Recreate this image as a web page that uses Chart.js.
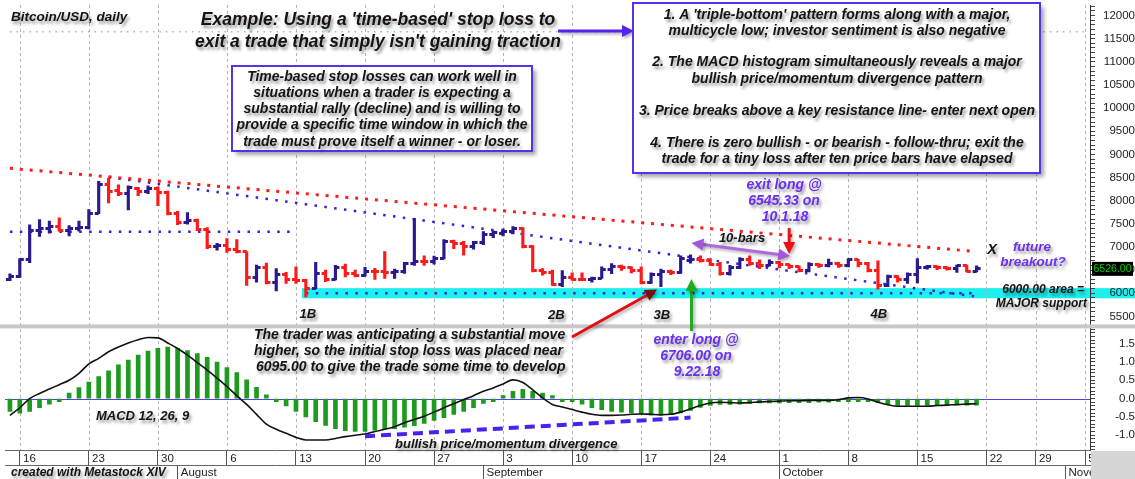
<!DOCTYPE html>
<html>
<head>
<meta charset="utf-8">
<script src="https://cdn.jsdelivr.net/npm/chart.js@4.4.1/dist/chart.umd.min.js"></script>
<style>
  html, body { margin: 0; padding: 0; background: #fff; overflow: hidden; }
</style>
</head>
<body>
<canvas id="chart" width="1135" height="479"></canvas>
<script>
// daily Bitcoin/USD bars, Jul 15 .. Oct 21 2018
const opens = [
  6290, 6370, 6720, 7360, 7400, 7450, 7360, 7400, 7420, 7720,
  8360, 8220, 8150, 8270, 8200, 8260, 8180, 7720, 7520, 7580,
  7380, 7000, 7040, 6940, 6900, 6350, 6560, 6230, 6400, 6300,
  6270, 6100, 6420, 6300, 6560, 6420, 6390, 6480, 6460, 6440,
  6480, 6640, 6690, 6680, 6740, 7120, 7080, 7000, 7100, 7260,
  7300, 7330, 7400, 7000, 6500, 6440, 6190, 6330, 6300, 6290,
  6320, 6520, 6580, 6550, 6500, 6230, 6400, 6460, 6440, 6706,
  6730, 6700, 6620, 6430, 6560, 6730, 6650, 6600, 6660, 6610,
  6570, 6490, 6620, 6590, 6650, 6600, 6720, 6650, 6500, 6170,
  6360, 6300, 6400, 6560, 6580, 6550, 6540, 6590, 6480
];
const highs = [
  6420, 6750, 7480, 7590, 7560, 7630, 7460, 7560, 7810, 8420,
  8490, 8340, 8320, 8290, 8320, 8300, 8210, 7770, 7740, 7600,
  7420, 7080, 7180, 7160, 6900, 6610, 6650, 6530, 6450, 6570,
  6300, 6670, 6500, 6600, 6630, 6500, 6560, 6540, 6900, 6520,
  6670, 7620, 6810, 6800, 7160, 7150, 7120, 7120, 7330, 7350,
  7390, 7440, 7420, 7030, 6530, 6500, 6490, 6440, 6440, 6350,
  6570, 6640, 6610, 6570, 6570, 6440, 6520, 6500, 6810, 6830,
  6810, 6750, 6670, 6600, 6770, 6810, 6720, 6720, 6690, 6630,
  6590, 6660, 6640, 6740, 6670, 6750, 6730, 6670, 6700, 6390,
  6380, 6440, 6750, 6600, 6590, 6570, 6610, 6610, 6590
];
const lows = [
  6270, 6340, 6660, 7230, 7300, 7340, 7240, 7340, 7390, 7720,
  7950, 8110, 7800, 8110, 8150, 7890, 7690, 7480, 7490, 7350,
  6960, 6930, 6880, 6870, 6170, 6240, 6200, 6050, 6210, 6210,
  5920, 6100, 6250, 6290, 6350, 6350, 6370, 6300, 6320, 6320,
  6430, 6600, 6600, 6630, 6740, 6960, 6820, 6950, 7050, 7200,
  7240, 7280, 6980, 6460, 6390, 6170, 6140, 6280, 6270, 6240,
  6320, 6420, 6490, 6440, 6200, 6210, 6140, 6400, 6430, 6650,
  6670, 6600, 6390, 6390, 6530, 6600, 6530, 6590, 6545, 6530,
  6460, 6460, 6560, 6570, 6560, 6570, 6570, 6460, 6090, 6140,
  6240, 6210, 6220, 6520, 6510, 6500, 6450, 6460, 6460
];
const closes = [
  6370, 6720, 7360, 7400, 7450, 7360, 7400, 7420, 7720, 8360,
  8200, 8150, 8280, 8200, 8260, 8180, 7720, 7520, 7580, 7380,
  7000, 7040, 6940, 6900, 6350, 6560, 6230, 6400, 6300, 6270,
  6100, 6420, 6300, 6560, 6420, 6390, 6480, 6460, 6440, 6480,
  6640, 6690, 6680, 6740, 7120, 7080, 7000, 7100, 7260, 7320,
  7330, 7400, 7000, 6500, 6440, 6190, 6330, 6300, 6290, 6320,
  6520, 6580, 6550, 6500, 6230, 6400, 6460, 6440, 6760, 6730,
  6700, 6620, 6430, 6560, 6730, 6650, 6600, 6670, 6610, 6570,
  6490, 6620, 6590, 6650, 6600, 6720, 6650, 6500, 6170, 6360,
  6300, 6400, 6560, 6580, 6550, 6540, 6590, 6480, 6526
];

// MACD 12,26,9 panel
const macdLine = [
  -0.46, -0.25, 0.00, 0.14, 0.26, 0.38, 0.50, 0.69, 0.95, 1.10,
  1.28, 1.41, 1.52, 1.61, 1.67, 1.66, 1.52, 1.37, 1.19, 0.98,
  0.78, 0.56, 0.33, 0.08, -0.16, -0.43, -0.70, -0.84, -0.95, -1.06,
  -1.13, -1.13, -1.13, -1.09, -1.04, -1.00, -0.97, -0.90, -0.84, -0.77,
  -0.66, -0.57, -0.48, -0.37, -0.25, -0.14, -0.03, 0.08, 0.20, 0.29,
  0.40, 0.51, 0.44, 0.24, 0.02, -0.16, -0.23, -0.30, -0.37, -0.43,
  -0.46, -0.46, -0.45, -0.43, -0.42, -0.43, -0.44, -0.43, -0.37, -0.28,
  -0.19, -0.12, -0.10, -0.11, -0.12, -0.11, -0.09, -0.08, -0.07, -0.06,
  -0.06, -0.05, -0.05, -0.05, -0.03, 0.02, 0.03, -0.01, -0.10, -0.17,
  -0.21, -0.21, -0.21, -0.21, -0.19, -0.18, -0.16, -0.15, -0.14
];
const macdHist = [
  -0.35, -0.40, -0.35, -0.25, -0.15, -0.03, 0.15, 0.30, 0.45, 0.60,
  0.76, 0.92, 1.05, 1.19, 1.30, 1.37, 1.41, 1.37, 1.31, 1.23,
  1.13, 1.00, 0.85, 0.71, 0.51, 0.31, 0.10, -0.05, -0.20, -0.35,
  -0.50, -0.63, -0.73, -0.82, -0.88, -0.90, -0.90, -0.86, -0.83, -0.82,
  -0.78, -0.74, -0.68, -0.60, -0.52, -0.43, -0.35, -0.25, -0.13, -0.05,
  0.07, 0.20, 0.25, 0.20, 0.15, 0.06, -0.02, -0.05, -0.15, -0.25,
  -0.30, -0.35, -0.37, -0.39, -0.42, -0.45, -0.46, -0.43, -0.39, -0.32,
  -0.24, -0.19, -0.16, -0.16, -0.15, -0.13, -0.12, -0.12, -0.12, -0.11,
  -0.11, -0.11, -0.10, -0.10, -0.08, -0.04, -0.02, -0.04, -0.10, -0.16,
  -0.19, -0.19, -0.19, -0.19, -0.19, -0.19, -0.18, -0.18, -0.18
];

// Metastock pads the future with weekdays only
const futureDays = ['2018-10-22', '2018-10-23', '2018-10-24', '2018-10-25', '2018-10-26',
  '2018-10-29', '2018-10-30', '2018-10-31', '2018-11-01', '2018-11-02', '2018-11-05'];
const monthNames = ['January', 'February', 'March', 'April', 'May', 'June', 'July',
  'August', 'September', 'October', 'November', 'December'];

// hand-drawn trend lines: [date, value]
const resistanceRed = [['2018-07-15', 8700], ['2018-10-21', 6900]];
const fallingBlue = [['2018-07-25', 8510], ['2018-10-21', 5925]];
const shelfBlue = [['2018-07-15', 7330], ['2018-08-13', 7330]];
const supportBlue = [['2018-08-14', 6000], ['2018-10-21', 6000]];
const topGreen = [['2018-07-15', 11650], ['2018-11-05', 11650]];
const divergence = [['2018-08-20', -1.03], ['2018-09-22', -0.52]];
const supportBand = [5890, 6110];

const pad = n => String(n).padStart(2, '0');
const iso = d => d.getFullYear() + '-' + pad(d.getMonth() + 1) + '-' + pad(d.getDate());
const days = [];
for (let i = 0; i < closes.length; i++) days.push(new Date(2018, 6, 15 + i));
futureDays.forEach(s => {
  const p = s.split('-').map(Number);
  days.push(new Date(p[0], p[1] - 1, p[2]));
});
const labels = days.map(iso);
const isMonday = i => days[i] && days[i].getDay() === 1;
const isFirst = i => days[i] && days[i].getDate() === 1;

const BLUE = '#2a1a8e', RED = '#ff1a1a';
const up = closes.map((c, i) => c >= opens[i]);

function tickMark(color, side) {
  const c = document.createElement('canvas');
  c.width = 10; c.height = 3;
  const g = c.getContext('2d');
  g.fillStyle = color;
  g.fillRect(side === 'open' ? 1 : 5, 0, 4, 3);
  return c;
}
const openBlue = tickMark(BLUE, 'open'), openRed = tickMark(RED, 'open');
const closeBlue = tickMark(BLUE, 'close'), closeRed = tickMark(RED, 'close');

function trend(points, color, width, dash, axis) {
  return {
    type: 'line',
    data: points.map(p => ({ x: p[0], y: p[1] })),
    borderColor: color,
    borderWidth: width,
    borderDash: dash,
    borderCapStyle: 'butt',
    pointRadius: 0,
    fill: false,
    yAxisID: axis || 'y'
  };
}

Chart.defaults.font.family = "'Liberation Sans', Arial, sans-serif";
Chart.defaults.color = '#222';

const FONT = size => "italic bold " + size + "px 'Liberation Sans', Arial, sans-serif";
const INK = '#141414', PURPLE = '#6a2ff2';

function txt(ctx, s, x, y, size, color, align) {
  ctx.save();
  ctx.font = FONT(size);
  ctx.fillStyle = color;
  ctx.textAlign = align || 'center';
  ctx.textBaseline = 'middle';
  ctx.shadowColor = 'rgba(0,0,0,0.4)';
  ctx.shadowBlur = 3;
  ctx.shadowOffsetX = 2;
  ctx.shadowOffsetY = 3;
  ctx.fillText(s, x, y);
  ctx.restore();
}

function noteBox(ctx, x, y, w, h) {
  ctx.save();
  ctx.shadowColor = 'rgba(0,0,0,0.35)';
  ctx.shadowBlur = 4;
  ctx.shadowOffsetX = 4;
  ctx.shadowOffsetY = 4;
  ctx.fillStyle = '#fff';
  ctx.fillRect(x, y, w, h);
  ctx.restore();
  ctx.save();
  ctx.strokeStyle = '#5533ee';
  ctx.lineWidth = 2;
  ctx.strokeRect(x, y, w, h);
  ctx.restore();
}

function arrow(ctx, x1, y1, x2, y2, color, width, headColor, both) {
  const a = Math.atan2(y2 - y1, x2 - x1);
  const hl = 12, hw = 6;
  const head = (x, y, ang) => {
    ctx.beginPath();
    ctx.moveTo(x, y);
    ctx.lineTo(x - hl * Math.cos(ang) + hw * Math.sin(ang), y - hl * Math.sin(ang) - hw * Math.cos(ang));
    ctx.lineTo(x - hl * Math.cos(ang) - hw * Math.sin(ang), y - hl * Math.sin(ang) + hw * Math.cos(ang));
    ctx.closePath();
    ctx.fill();
  };
  ctx.save();
  ctx.shadowColor = 'rgba(0,0,0,0.3)';
  ctx.shadowBlur = 3;
  ctx.shadowOffsetX = 2;
  ctx.shadowOffsetY = 2;
  ctx.strokeStyle = color;
  ctx.lineWidth = width;
  ctx.beginPath();
  ctx.moveTo(both ? x1 + hl * 0.8 * Math.cos(a) : x1, both ? y1 + hl * 0.8 * Math.sin(a) : y1);
  ctx.lineTo(x2 - hl * 0.8 * Math.cos(a), y2 - hl * 0.8 * Math.sin(a));
  ctx.stroke();
  ctx.fillStyle = headColor || color;
  head(x2, y2, a);
  if (both) head(x1, y1, a + Math.PI);
  ctx.restore();
}

const notesPlugin = {
  id: 'notes',
  beforeDraw(chart) {
    const { ctx, scales: { x, y } } = chart;
    // cyan 6000 support band, carried through the price axis
    const x0 = x.getPixelForValue(labels.indexOf(supportBlue[0][0])) - 4;
    const yTop = y.getPixelForValue(supportBand[1]);
    const yBot = y.getPixelForValue(supportBand[0]);
    ctx.save();
    ctx.fillStyle = '#1ef0f0';
    ctx.fillRect(x0, yTop, chart.width - x0, yBot - yTop);
    ctx.restore();
  },
  beforeDatasetsDraw(chart) {
    const { ctx, chartArea, scales: { x, y2 } } = chart;
    ctx.save();
    // weekly dashed grid through both panels
    ctx.strokeStyle = '#b4b4b4';
    ctx.lineWidth = 1;
    ctx.setLineDash([3, 3]);
    days.forEach((d, i) => {
      if (!isMonday(i)) return;
      const px = Math.round(x.getPixelForValue(i)) + 0.5;
      ctx.beginPath();
      ctx.moveTo(px, chartArea.top);
      ctx.lineTo(px, chartArea.bottom);
      ctx.stroke();
    });
    ctx.setLineDash([]);
    // panel separator
    ctx.fillStyle = '#c8c8c8';
    ctx.fillRect(0, y2.top - 2, chart.width, 4);
    // MACD zero line
    const zy = Math.round(y2.getPixelForValue(0)) + 0.5;
    ctx.strokeStyle = '#5540e0';
    ctx.beginPath();
    ctx.moveTo(chartArea.left, zy);
    ctx.lineTo(chartArea.right, zy);
    ctx.stroke();
    ctx.restore();
  },
  afterDraw(chart) {
    const { ctx, chartArea, scales: { x, y } } = chart;
    const xi = i => x.getPixelForValue(i);

    // corner under the price axis
    ctx.save();
    ctx.fillStyle = '#d6d6d6';
    ctx.fillRect(chartArea.right + 1, chartArea.bottom + 1, chart.width - chartArea.right, chart.height - chartArea.bottom);
    ctx.restore();

    // last price flag
    const last = closes[closes.length - 1];
    const ly = y.getPixelForValue(last);
    ctx.save();
    ctx.fillStyle = '#000';
    ctx.fillRect(chartArea.right + 2, ly - 7, 41, 14);
    ctx.fillStyle = '#00cc00';
    ctx.font = "10.5px 'Liberation Sans', Arial, sans-serif";
    ctx.textAlign = 'center';
    ctx.textBaseline = 'middle';
    ctx.fillText(last.toFixed(2), chartArea.right + 22.5, ly + 0.5);
    ctx.restore();

    txt(ctx, 'Bitcoin/USD, daily', 11, 17, 13.5, INK, 'left');
    txt(ctx, "Example: Using a 'time-based' stop loss to", 378, 20, 17.5, INK);
    txt(ctx, "exit a trade that simply isn't gaining traction", 378, 42, 17.5, INK);
    arrow(ctx, 558, 31, 634, 31, '#5522ee', 3);

    noteBox(ctx, 232, 66, 300, 85);
    ['Time-based stop losses can work well in',
     'situations when a trader is expecting a',
     'substantial rally (decline) and is willing to',
     'provide a specific time window in which the',
     'trade must prove itself a winner - or loser.']
      .forEach((s, k) => txt(ctx, s, 382, 77 + k * 16.2, 14, INK));

    noteBox(ctx, 633, 3, 407, 170);
    [["1. A 'triple-bottom' pattern forms along with a major,", 15],
     ['multicycle low; investor sentiment is also negative', 31],
     ['2. The MACD histogram simultaneously reveals a major', 62],
     ['bullish price/momentum divergence pattern', 79],
     ['3. Price breaks above a key resistance line- enter next open', 111],
     ['4. There is zero bullish - or bearish - follow-thru; exit the', 143],
     ['trade for a tiny loss after ten price bars have elapsed', 159]]
      .forEach(r => txt(ctx, r[0], 837, r[1], 14, INK));

    // trade exit
    txt(ctx, 'exit long @', 784, 185, 14, PURPLE);
    txt(ctx, '6545.33 on', 784, 201, 14, PURPLE);
    txt(ctx, '10.1.18', 785, 217, 14, PURPLE);
    arrow(ctx, xi(79), 228, xi(79), 254, '#ee1111', 3);
    arrow(ctx, xi(69) + 1, 243, xi(79) + 1, 256, '#b068e0', 3, '#a058d8', true);
    txt(ctx, '10-bars', 742, 238, 13, INK);

    txt(ctx, 'X', 992, 250, 14.5, INK);
    txt(ctx, 'future', 1032, 247, 13.5, PURPLE);
    txt(ctx, 'breakout?', 1033, 262, 13.5, PURPLE);
    txt(ctx, '6000.00 area =', 1084, 290, 12, INK, 'right');
    txt(ctx, 'MAJOR support', 1087, 304, 12, INK, 'right');

    // triple-bottom lows
    const by = y.getPixelForValue(5540);
    txt(ctx, '1B', xi(30) + 2, by, 13, INK);
    txt(ctx, '2B', xi(55) + 4, by + 1, 13, INK);
    txt(ctx, '3B', xi(66) + 1, by + 1, 13, INK);
    txt(ctx, '4B', xi(88) + 1, by, 13, INK);

    // entry
    arrow(ctx, 572, 337, xi(65) + 6, y.getPixelForValue(6080), '#e01010', 3, '#7a0f0f');
    arrow(ctx, xi(69) + 1, 331, xi(69) + 1, 279, '#22aa22', 3);
    txt(ctx, 'The trader was anticipating a substantial move', 254, 335, 14, INK, 'left');
    txt(ctx, 'higher, so the initial stop loss was placed near', 254, 351, 14, INK, 'left');
    txt(ctx, '6095.00 to give the trade some time to develop', 256, 367, 14, INK, 'left');
    txt(ctx, 'enter long @', 696, 340, 14, PURPLE);
    txt(ctx, '6706.00 on', 696, 356, 14, PURPLE);
    txt(ctx, '9.22.18', 697, 372, 14, PURPLE);

    txt(ctx, 'MACD 12, 26, 9', 96, 416, 13, INK, 'left');
    txt(ctx, 'bullish price/momentum divergence', 395, 444, 13, INK, 'left');
    txt(ctx, 'created with Metastock XIV', 11, 472.5, 12, INK, 'left');
  }
};

const fitY = s => { s.width = 45; s.paddingTop = 0; s.paddingBottom = 0; };

new Chart('chart', {
  data: {
    labels: labels,
    datasets: [
      {
        type: 'line', data: opens, showLine: false, pointRadius: 3,
        pointStyle: up.map(u => u ? openBlue : openRed), yAxisID: 'y'
      },
      {
        type: 'line', data: closes, showLine: false, pointRadius: 3,
        pointStyle: up.map(u => u ? closeBlue : closeRed), yAxisID: 'y'
      },
      {
        type: 'bar', data: lows.map((l, i) => [l, highs[i]]),
        backgroundColor: up.map(u => u ? BLUE : RED),
        barThickness: 2.5, grouped: false, borderWidth: 0, yAxisID: 'y'
      },
      trend(resistanceRed, '#ff1a1a', 3, [3, 6.9]),
      trend(fallingBlue, '#3322dd', 2.5, [2.5, 7.4]),
      trend(shelfBlue, '#3322dd', 2.5, [2.5, 7.4]),
      trend(supportBlue, '#3322dd', 2.5, [2.5, 7.4]),
      trend(topGreen, '#86d086', 1.5, [1.5, 5]),
      trend(divergence, '#4a22f0', 4, [10, 6], 'y2'),
      {
        type: 'line', data: macdLine, borderColor: '#111', borderWidth: 1.6,
        pointRadius: 0, cubicInterpolationMode: 'monotone', yAxisID: 'y2'
      },
      {
        type: 'bar', data: macdHist, backgroundColor: '#1e9a1e',
        barThickness: 4, minBarLength: 3, grouped: false, borderWidth: 0, yAxisID: 'y2'
      }
    ]
  },
  options: {
    responsive: false,
    animation: false,
    events: [],
    layout: { padding: 0 },
    plugins: { legend: { display: false }, tooltip: { enabled: false } },
    scales: {
      x: {
        type: 'category', position: 'bottom', offset: true, weight: 0,
        grid: {
          offset: false, drawOnChartArea: false, tickLength: 15,
          tickColor: ctx => isMonday(ctx.index) ? '#555' : 'rgba(0,0,0,0)'
        },
        border: { display: true, color: '#666' },
        ticks: {
          autoSkip: false, maxRotation: 0, minRotation: 0, align: 'start', padding: -13,
          font: { size: 11.5 }, color: '#222',
          callback: (v, i) => isMonday(i) ? ' ' + days[i].getDate() : ''
        },
        afterFit: s => { s.height = 15; s.paddingLeft = 0; s.paddingRight = 0; }
      },
      x2: {
        type: 'category', position: 'bottom', offset: true, weight: 1,
        grid: {
          offset: false, drawOnChartArea: false, tickLength: 14,
          tickColor: ctx => isFirst(ctx.index) ? '#555' : 'rgba(0,0,0,0)'
        },
        border: { display: true, color: '#666' },
        ticks: {
          autoSkip: false, maxRotation: 0, minRotation: 0, align: 'start', padding: -13,
          font: { size: 11.5 }, color: '#222',
          callback: (v, i) => isFirst(i) ? ' ' + monthNames[days[i].getMonth()] : ''
        },
        afterFit: s => { s.height = 14; s.paddingLeft = 0; s.paddingRight = 0; }
      },
      y: {
        type: 'linear', position: 'right', stack: 'panels', stackWeight: 2.6,
        min: 5283, max: 12229,
        grid: { drawOnChartArea: false, tickLength: 5, tickColor: '#444' },
        border: { display: true, color: '#333' },
        ticks: {
          stepSize: 100, includeBounds: false, autoSkip: false, padding: 3, crossAlign: 'far',
          font: { size: 11.5 }, color: '#222',
          callback: v => v % 500 === 0 ? String(v) : ''
        },
        afterFit: fitY
      },
      y2: {
        type: 'linear', position: 'right', stack: 'panels', stackWeight: 1,
        min: -1.405, max: 1.973,
        grid: { drawOnChartArea: false, tickLength: 5, tickColor: '#444' },
        border: { display: true, color: '#333' },
        ticks: {
          stepSize: 0.1, includeBounds: false, autoSkip: false, padding: 15, crossAlign: 'far',
          font: { size: 11.5 }, color: '#222',
          callback: v => Math.abs(v * 2 - Math.round(v * 2)) < 1e-6 ? v.toFixed(1) : ''
        },
        afterFit: fitY
      }
    }
  },
  plugins: [notesPlugin]
});
</script>
</body>
</html>
